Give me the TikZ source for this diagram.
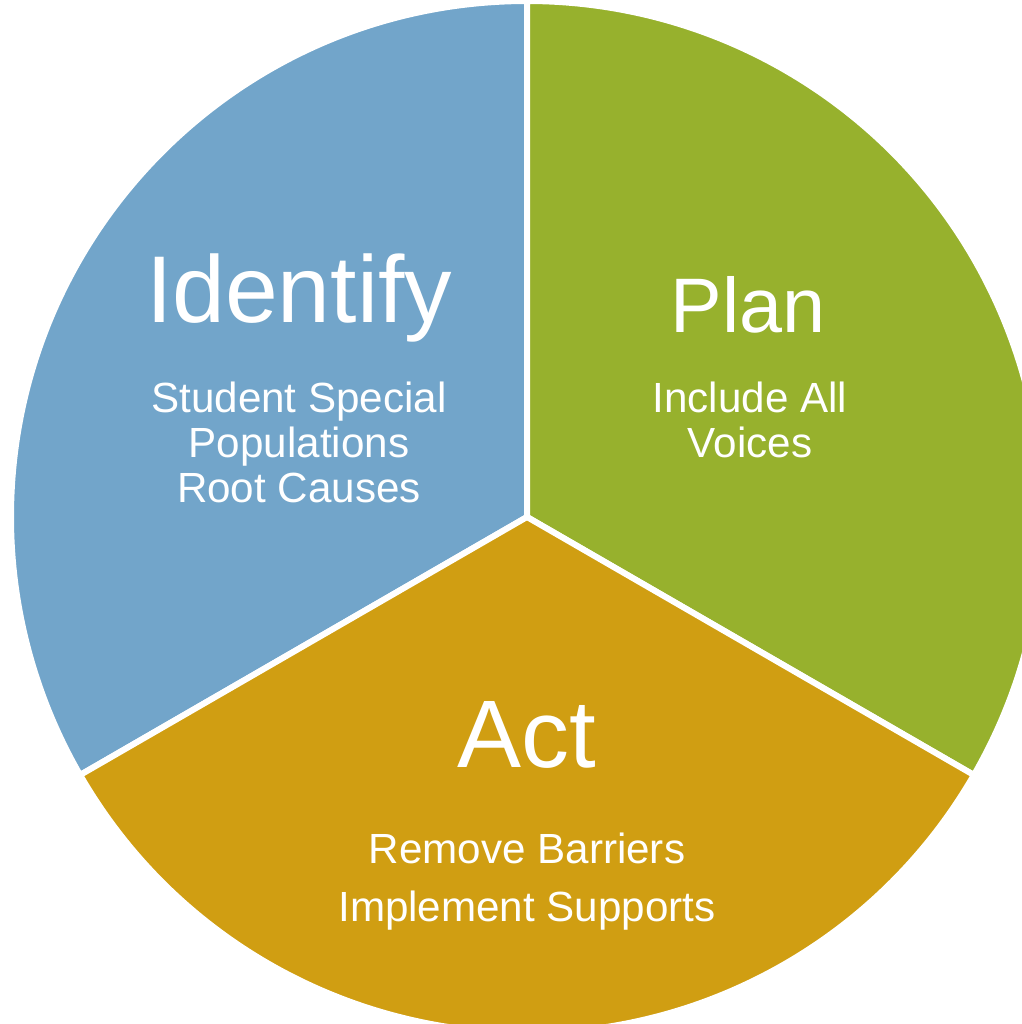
\documentclass[tikz,border=0pt]{standalone}
\usepackage{fontspec}
\setmainfont{Liberation Sans}
\usepackage{xcolor}
\usepackage{tikz}
\usetikzlibrary{positioning}

\definecolor{idblue}{RGB}{114,165,202}
\definecolor{plangreen}{RGB}{151,177,45}
\definecolor{actgold}{RGB}{208,158,18}

\begin{document}
\begin{tikzpicture}[
    slice/.style={draw=white, line width=0.6mm, line join=miter},
    title/.style={text=white, anchor=base, inner sep=0pt, font=\fontsize{27}{30}\selectfont},
    detail/.style={text=white, anchor=base, inner sep=0pt, align=center, font=\fontsize{12}{12.7}\selectfont},
]
\useasboundingbox (0,0) rectangle (10.22,-10.24);
\clip (0,0) rectangle (10.22,-10.24);
\coordinate (c) at (5.27,-5.17);

% three 120 degree slices
\filldraw[slice, fill=idblue] (c) -- ++(90:5.16) arc[start angle=90, end angle=210, radius=5.16] -- cycle;
\filldraw[slice, fill=plangreen] (c) -- ++(-30:5.16) arc[start angle=-30, end angle=90, radius=5.16] -- cycle;
\filldraw[slice, fill=actgold] (c) -- ++(210:5.16) arc[start angle=210, end angle=330, radius=5.16] -- cycle;

% Identify (detail nodes sit on the baseline of their last line)
\node[title] (identify) at (2.99,-3.22) {Identify};
\node[detail] (identifyinfo) at (2.99,-5.02) {Student Special\\Populations\\Root Causes};

% Plan
\node[title, font=\fontsize{22}{25}\selectfont] (plan) at (7.48,-3.32) {Plan};
\node[detail] (planinfo) at (7.50,-4.57) {Include All\\Voices};

% Act
\node[title, font=\fontsize{27.3}{30}\selectfont] (act) at (5.27,-7.67) {Act};
\node[detail, font=\fontsize{12}{16.5}\selectfont] (actinfo) at (5.27,-9.21) {Remove Barriers\\Implement Supports};

\end{tikzpicture}
\end{document}
